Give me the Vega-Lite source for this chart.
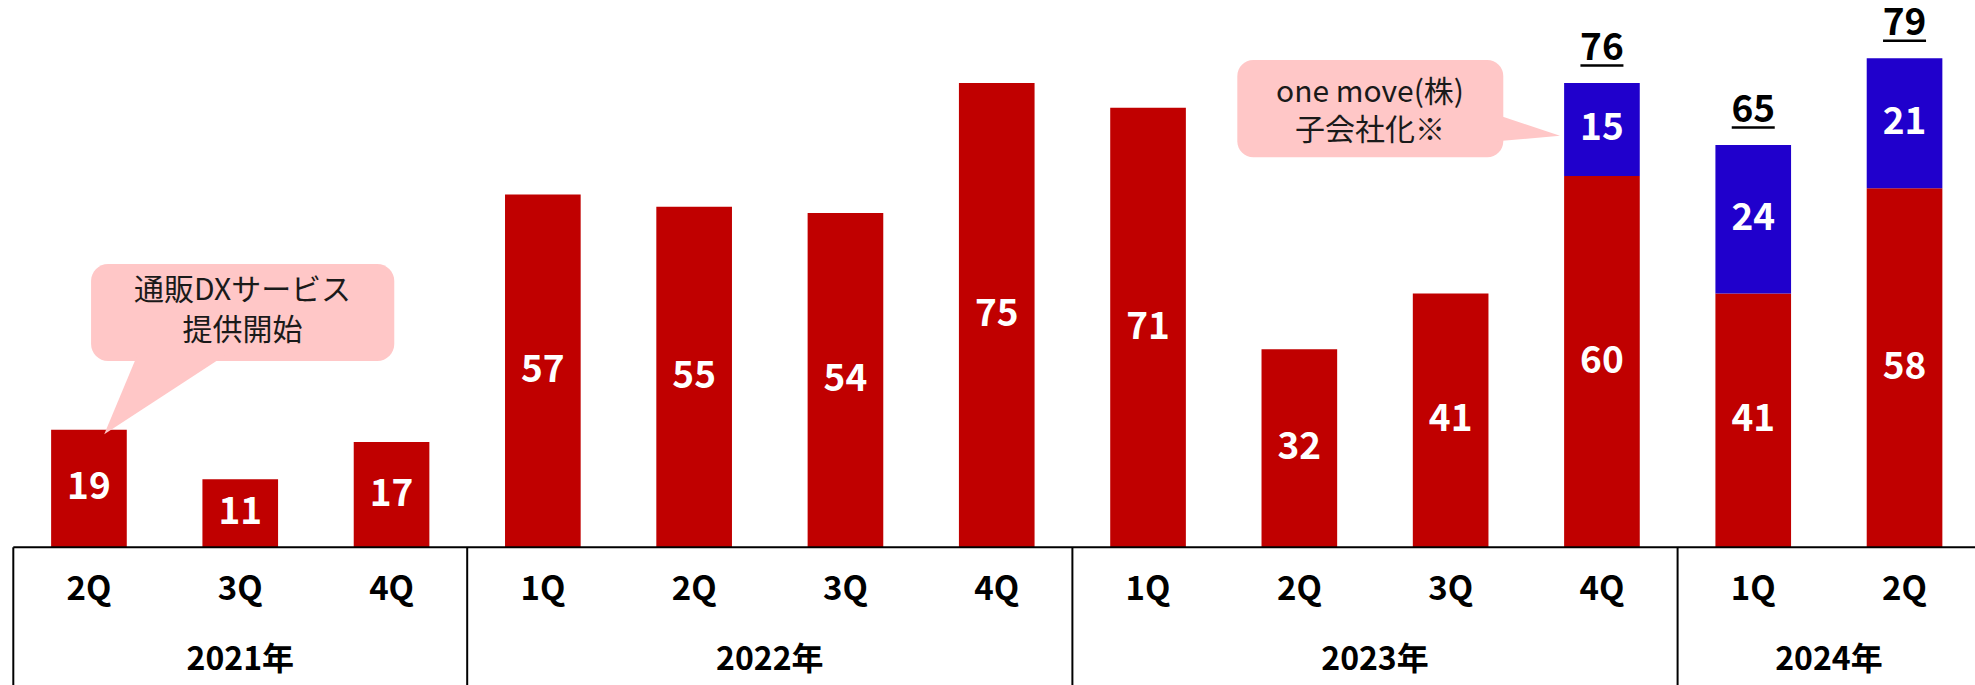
{
  "$schema": "https://vega.github.io/schema/vega-lite/v6.json",
  "width": 1966.9,
  "height": 685,
  "autosize": "none",
  "padding": {"left": 13.3, "top": 0, "right": 0, "bottom": 0},
  "background": "white",
  "config": {"view": {"stroke": null}, "font": "Noto Sans CJK JP"},
  "datasets": {
    "sales": [
      {"period": "2021-2Q", "year": "2021年", "q": "2Q", "segment": "既存事業", "value": 19},
      {"period": "2021-3Q", "year": "2021年", "q": "3Q", "segment": "既存事業", "value": 11},
      {"period": "2021-4Q", "year": "2021年", "q": "4Q", "segment": "既存事業", "value": 17},
      {"period": "2022-1Q", "year": "2022年", "q": "1Q", "segment": "既存事業", "value": 57},
      {"period": "2022-2Q", "year": "2022年", "q": "2Q", "segment": "既存事業", "value": 55},
      {"period": "2022-3Q", "year": "2022年", "q": "3Q", "segment": "既存事業", "value": 54},
      {"period": "2022-4Q", "year": "2022年", "q": "4Q", "segment": "既存事業", "value": 75},
      {"period": "2023-1Q", "year": "2023年", "q": "1Q", "segment": "既存事業", "value": 71},
      {"period": "2023-2Q", "year": "2023年", "q": "2Q", "segment": "既存事業", "value": 32},
      {"period": "2023-3Q", "year": "2023年", "q": "3Q", "segment": "既存事業", "value": 41},
      {"period": "2023-4Q", "year": "2023年", "q": "4Q", "segment": "既存事業", "value": 60, "total": 76},
      {"period": "2023-4Q", "year": "2023年", "q": "4Q", "segment": "one move(株)", "value": 15, "total": 76},
      {"period": "2024-1Q", "year": "2024年", "q": "1Q", "segment": "既存事業", "value": 41, "total": 65},
      {"period": "2024-1Q", "year": "2024年", "q": "1Q", "segment": "one move(株)", "value": 24, "total": 65},
      {"period": "2024-2Q", "year": "2024年", "q": "2Q", "segment": "既存事業", "value": 58, "total": 79},
      {"period": "2024-2Q", "year": "2024年", "q": "2Q", "segment": "one move(株)", "value": 21, "total": 79}
    ]
  },
  "data": {"name": "sales"},
  "layer": [
    {
      "layer": [
        {
          "mark": {"type": "bar", "width": {"band": 0.5}},
          "encoding": {
            "x": {"field": "period", "type": "nominal", "scale": {"paddingInner": 0, "paddingOuter": 0}, "axis": null},
            "y": {"field": "value", "type": "quantitative", "stack": "zero", "scale": {"domain": [-22.25, 88.42], "nice": false, "zero": false}, "axis": null},
            "color": {"field": "segment", "type": "nominal", "scale": {"domain": ["既存事業", "one move(株)"], "range": ["#C00000", "#2000CC"]}, "legend": null},
            "order": {"field": "segment", "sort": "descending"}
          }
        },
        {
          "mark": {"type": "text", "color": "white", "fontSize": 37, "fontWeight": "bold", "baseline": "middle", "align": "center"},
          "encoding": {
            "x": {"field": "period", "type": "nominal"},
            "y": {"field": "value", "type": "quantitative", "stack": "zero", "bandPosition": 0.5, "scale": {"domain": [-22.25, 88.42], "nice": false, "zero": false}},
            "detail": {"field": "segment"},
            "order": {"field": "segment", "sort": "descending"},
            "text": {"field": "value", "type": "quantitative"}
          }
        },
        {
          "transform": [
            {"filter": "isValid(datum.total)"},
            {"aggregate": [{"op": "sum", "field": "value", "as": "stackTop"}, {"op": "max", "field": "total", "as": "totalLabel"}], "groupby": ["period"]}
          ],
          "mark": {"type": "text", "color": "black", "fontSize": 37, "fontWeight": "bold", "baseline": "middle", "align": "center", "dy": -34},
          "encoding": {
            "x": {"field": "period", "type": "nominal"},
            "y": {"field": "stackTop", "type": "quantitative", "scale": {"domain": [-22.25, 88.42], "nice": false, "zero": false}},
            "text": {"field": "totalLabel", "type": "quantitative"}
          }
        },
        {
          "transform": [
            {"filter": "isValid(datum.total)"},
            {"aggregate": [{"op": "sum", "field": "value", "as": "stackTop"}], "groupby": ["period"]}
          ],
          "mark": {"type": "tick", "color": "black", "size": 43, "thickness": 2.5, "yOffset": -17.5, "opacity": 1},
          "encoding": {
            "x": {"field": "period", "type": "nominal"},
            "y": {"field": "stackTop", "type": "quantitative", "scale": {"domain": [-22.25, 88.42], "nice": false, "zero": false}}
          }
        },
        {
          "data": {"values": [{}]},
          "mark": {"type": "rule", "color": "black", "strokeWidth": 2},
          "encoding": {
            "y": {"datum": 0, "type": "quantitative", "scale": {"domain": [-22.25, 88.42], "nice": false, "zero": false}}
          }
        },
        {
          "transform": [
            {"filter": "datum.segment == '既存事業'"},
            {"window": [{"op": "row_number", "as": "rn"}], "groupby": ["year"], "sort": [{"field": "period", "order": "ascending"}]},
            {"filter": "datum.rn == 1"}
          ],
          "mark": {"type": "rule", "color": "black", "strokeWidth": 2},
          "encoding": {
            "x": {"field": "period", "type": "nominal", "bandPosition": 0},
            "y": {"datum": 0, "type": "quantitative", "scale": {"domain": [-22.25, 88.42], "nice": false, "zero": false}},
            "y2": {"datum": -22.25}
          }
        },
        {
          "transform": [{"filter": "datum.segment == '既存事業'"}],
          "mark": {"type": "text", "color": "black", "fontSize": 33, "fontWeight": "bold", "baseline": "middle", "align": "center"},
          "encoding": {
            "x": {"field": "period", "type": "nominal"},
            "y": {"datum": -6.9, "type": "quantitative", "scale": {"domain": [-22.25, 88.42], "nice": false, "zero": false}},
            "text": {"field": "q"}
          }
        },
        {
          "transform": [
            {"filter": "datum.segment == '既存事業'"},
            {"window": [{"op": "row_number", "as": "rn"}, {"op": "count", "as": "n"}], "groupby": ["year"], "sort": [{"field": "period", "order": "ascending"}], "frame": [null, null]},
            {"filter": "datum.n % 2 == 1 && datum.rn == (datum.n + 1) / 2"}
          ],
          "mark": {"type": "text", "color": "black", "fontSize": 32, "fontWeight": "bold", "baseline": "middle", "align": "center"},
          "encoding": {
            "x": {"field": "period", "type": "nominal", "bandPosition": 0.5},
            "y": {"datum": -18.17, "type": "quantitative", "scale": {"domain": [-22.25, 88.42], "nice": false, "zero": false}},
            "text": {"field": "year"}
          }
        },
        {
          "transform": [
            {"filter": "datum.segment == '既存事業'"},
            {"window": [{"op": "row_number", "as": "rn"}, {"op": "count", "as": "n"}], "groupby": ["year"], "sort": [{"field": "period", "order": "ascending"}], "frame": [null, null]},
            {"filter": "datum.n % 2 == 0 && datum.rn == datum.n / 2 + 1"}
          ],
          "mark": {"type": "text", "color": "black", "fontSize": 32, "fontWeight": "bold", "baseline": "middle", "align": "center"},
          "encoding": {
            "x": {"field": "period", "type": "nominal", "bandPosition": 0},
            "y": {"datum": -18.17, "type": "quantitative", "scale": {"domain": [-22.25, 88.42], "nice": false, "zero": false}},
            "text": {"field": "year"}
          }
        }
      ]
    },
    {
      "data": {"values": [{}]},
      "layer": [
        {
          "mark": {"type": "rect", "color": "#FFC7C7", "cornerRadius": 17},
          "encoding": {
            "x": {"datum": 0.514, "type": "quantitative", "scale": {"domain": [0, 13], "nice": false, "zero": false}, "axis": null},
            "x2": {"datum": 2.518},
            "y": {"datum": 45.77, "type": "quantitative", "scale": {"domain": [-22.25, 88.42], "nice": false, "zero": false}},
            "y2": {"datum": 30.1}
          }
        },
        {
          "mark": {"type": "point", "shape": "M0,0L33,-79L121,-79Z", "size": 4, "filled": true, "color": "#FFC7C7", "opacity": 1, "strokeWidth": 0},
          "encoding": {
            "x": {"datum": 0.601, "type": "quantitative", "scale": {"domain": [0, 13], "nice": false, "zero": false}},
            "y": {"datum": 18.26, "type": "quantitative", "scale": {"domain": [-22.25, 88.42], "nice": false, "zero": false}}
          }
        },
        {
          "mark": {"type": "rect", "color": "#FFC7C7", "cornerRadius": 16},
          "encoding": {
            "x": {"datum": 8.09, "type": "quantitative", "scale": {"domain": [0, 13], "nice": false, "zero": false}},
            "x2": {"datum": 9.848},
            "y": {"datum": 78.72, "type": "quantitative", "scale": {"domain": [-22.25, 88.42], "nice": false, "zero": false}},
            "y2": {"datum": 63.0}
          }
        },
        {
          "mark": {"type": "point", "shape": "M0,0L-63,-21L-63,5.5Z", "size": 4, "filled": true, "color": "#FFC7C7", "opacity": 1, "strokeWidth": 0},
          "encoding": {
            "x": {"datum": 10.223, "type": "quantitative", "scale": {"domain": [0, 13], "nice": false, "zero": false}},
            "y": {"datum": 66.49, "type": "quantitative", "scale": {"domain": [-22.25, 88.42], "nice": false, "zero": false}}
          }
        },
        {
          "mark": {"type": "text", "color": "#1a1a1a", "fontSize": 30, "baseline": "middle", "align": "center"},
          "encoding": {
            "x": {"datum": 1.515, "type": "quantitative", "scale": {"domain": [0, 13], "nice": false, "zero": false}},
            "y": {"datum": 41.4, "type": "quantitative", "scale": {"domain": [-22.25, 88.42], "nice": false, "zero": false}},
            "text": {"value": "通販DXサービス"}
          }
        },
        {
          "mark": {"type": "text", "color": "#1a1a1a", "fontSize": 30, "baseline": "middle", "align": "center"},
          "encoding": {
            "x": {"datum": 1.515, "type": "quantitative", "scale": {"domain": [0, 13], "nice": false, "zero": false}},
            "y": {"datum": 35.0, "type": "quantitative", "scale": {"domain": [-22.25, 88.42], "nice": false, "zero": false}},
            "text": {"value": "提供開始"}
          }
        },
        {
          "mark": {"type": "text", "color": "#1a1a1a", "fontSize": 30, "baseline": "middle", "align": "center"},
          "encoding": {
            "x": {"datum": 8.967, "type": "quantitative", "scale": {"domain": [0, 13], "nice": false, "zero": false}},
            "y": {"datum": 73.45, "type": "quantitative", "scale": {"domain": [-22.25, 88.42], "nice": false, "zero": false}},
            "text": {"value": "one move(株)"}
          }
        },
        {
          "mark": {"type": "text", "color": "#1a1a1a", "fontSize": 30, "baseline": "middle", "align": "center"},
          "encoding": {
            "x": {"datum": 8.967, "type": "quantitative", "scale": {"domain": [0, 13], "nice": false, "zero": false}},
            "y": {"datum": 67.3, "type": "quantitative", "scale": {"domain": [-22.25, 88.42], "nice": false, "zero": false}},
            "text": {"value": "子会社化※"}
          }
        }
      ]
    }
  ],
  "resolve": {"scale": {"x": "independent"}}
}
